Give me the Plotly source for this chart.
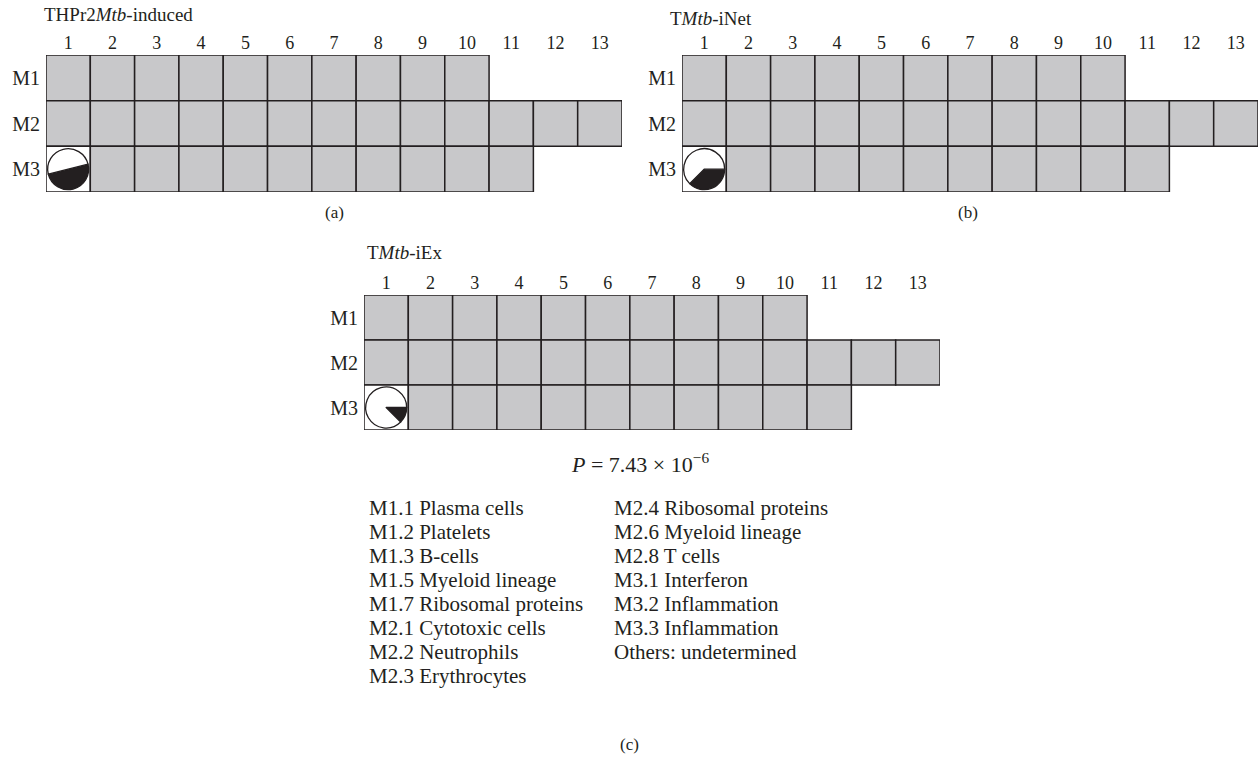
import plotly.graph_objects as go

W, H = 1259, 765

# ---------------- data ----------------
panel_titles = ["THPr2<i>Mtb</i>-induced", "T<i>Mtb</i>-iNet", "T<i>Mtb</i>-iEx"]
panel_tags = ["(a)", "(b)", "(c)"]
row_labels = ["M1", "M2", "M3"]
column_labels = [str(i) for i in range(1, 14)]
modules_per_row_a = [10, 13, 11]
modules_per_row_b = [10, 13, 11]
modules_per_row_c = [10, 13, 11]
# fraction of module M3.1 (dark slice) shown in the pie in cell (M3, 1)
pie_dark_share = [0.50, 0.375, 0.125]
pie_start_angle = [76, 90, 90]
p_value_text = "<i>P</i> = 7.43 × 10<sup>−6</sup>"
legend_col1 = ["M1.1 Plasma cells", "M1.2 Platelets", "M1.3 B-cells", "M1.5 Myeloid lineage",
               "M1.7 Ribosomal proteins", "M2.1 Cytotoxic cells", "M2.2 Neutrophils",
               "M2.3 Erythrocytes"]
legend_col2 = ["M2.4 Ribosomal proteins", "M2.6 Myeloid lineage", "M2.8 T cells",
               "M3.1 Interferon", "M3.2 Inflammation", "M3.3 Inflammation",
               "Others: undetermined"]

# ---------------- styling / layout constants ----------------
FONT = "Liberation Serif, Times New Roman, serif"
TXT = "#231f20"
GRAY = "#c8c8ca"
FS_NUM = 18
FS_ROW = 20
FS_TITLE = 19
FS_LEG = 21
# pixel boxes of each grid: (left, right, top, bottom)
boxes = [(46, 622, 55, 192), (682, 1258, 55, 192), (364, 940, 295, 430)]
counts = [modules_per_row_a, modules_per_row_b, modules_per_row_c]

fig = go.Figure()
layout = dict(width=W, height=H, margin=dict(l=0, r=0, t=0, b=0),
              paper_bgcolor="white", plot_bgcolor="rgba(0,0,0,0)",
              showlegend=False, font=dict(family=FONT, size=FS_LEG, color=TXT))
shapes, annotations = [], []


def px(x):
    return x / W


def py(y):
    return 1 - y / H


for i, ((l, r, t, b), cnt) in enumerate(zip(boxes, counts)):
    xa = "xaxis" if i == 0 else f"xaxis{i+1}"
    ya = "yaxis" if i == 0 else f"yaxis{i+1}"
    xr = "x" if i == 0 else f"x{i+1}"
    yr = "y" if i == 0 else f"y{i+1}"
    layout[xa] = dict(domain=[px(l), px(r)], range=[0.5, 13.5], side="top",
                      tickvals=list(range(1, 14)), ticktext=column_labels,
                      showgrid=False, zeroline=False, showline=False, ticks="",
                      ticklabelstandoff=1, anchor=yr, fixedrange=True,
                      tickfont=dict(family=FONT, size=FS_NUM, color=TXT))
    layout[ya] = dict(domain=[py(b), py(t)], range=[3.5, 0.5],
                      tickvals=[1, 2, 3], ticktext=row_labels,
                      showgrid=False, zeroline=False, showline=False, ticks="",
                      ticklabelstandoff=5, anchor=xr, fixedrange=True,
                      tickfont=dict(family=FONT, size=FS_ROW, color=TXT))
    # invisible trace to activate axes
    fig.add_trace(go.Scatter(x=[1], y=[1], xaxis=xr, yaxis=yr, mode="markers",
                             marker=dict(opacity=0), hoverinfo="skip"))
    for ri, n in enumerate(cnt):
        for c in range(1, n + 1):
            white = (ri == 2 and c == 1)
            shapes.append(dict(type="rect", xref=xr, yref=yr,
                               x0=c - 0.5, x1=c + 0.5, y0=ri + 0.5, y1=ri + 1.5,
                               fillcolor="white" if white else GRAY,
                               line=dict(color=TXT, width=1.5), layer="below"))
    # pie in cell (M3, 1)
    cw = (r - l) / 13.0
    rh = (b - t) / 3.0
    cx = l + cw * 0.5
    cy = t + rh * 2.5
    rad = 20.5
    fig.add_trace(go.Pie(values=[pie_dark_share[i], 1 - pie_dark_share[i]],
                         marker=dict(colors=[TXT, "white"], line=dict(color=TXT, width=1.3)),
                         direction="clockwise", rotation=pie_start_angle[i], sort=False,
                         textinfo="none", hoverinfo="skip",
                         domain=dict(x=[px(cx - rad), px(cx + rad)], y=[py(cy + rad), py(cy - rad)])))

# titles
title_pos = [(42, 14), (668, 18), (365, 253)]
for (x, y), ttl in zip(title_pos, panel_titles):
    annotations.append(dict(text=ttl, x=px(x), y=py(y), xref="paper", yref="paper",
                            xanchor="left", yanchor="middle", showarrow=False,
                            font=dict(size=FS_TITLE)))
tag_pos = [(334, 212), (968, 212), (629, 744)]
for (x, y), tg in zip(tag_pos, panel_tags):
    annotations.append(dict(text=tg, x=px(x), y=py(y), xref="paper", yref="paper",
                            xanchor="center", yanchor="middle", showarrow=False,
                            font=dict(size=17)))
annotations.append(dict(text=p_value_text, x=px(640), y=py(463), xref="paper", yref="paper",
                        xanchor="center", yanchor="middle", showarrow=False,
                        font=dict(size=22)))
for k, t in enumerate(legend_col1):
    annotations.append(dict(text=t, x=px(367), y=py(508 + 24 * k), xref="paper", yref="paper",
                            xanchor="left", yanchor="middle", showarrow=False))
for k, t in enumerate(legend_col2):
    annotations.append(dict(text=t, x=px(612), y=py(508 + 24 * k), xref="paper", yref="paper",
                            xanchor="left", yanchor="middle", showarrow=False))

layout["shapes"] = shapes
layout["annotations"] = annotations
fig.update_layout(**layout)
fig.write_html("out.html")
